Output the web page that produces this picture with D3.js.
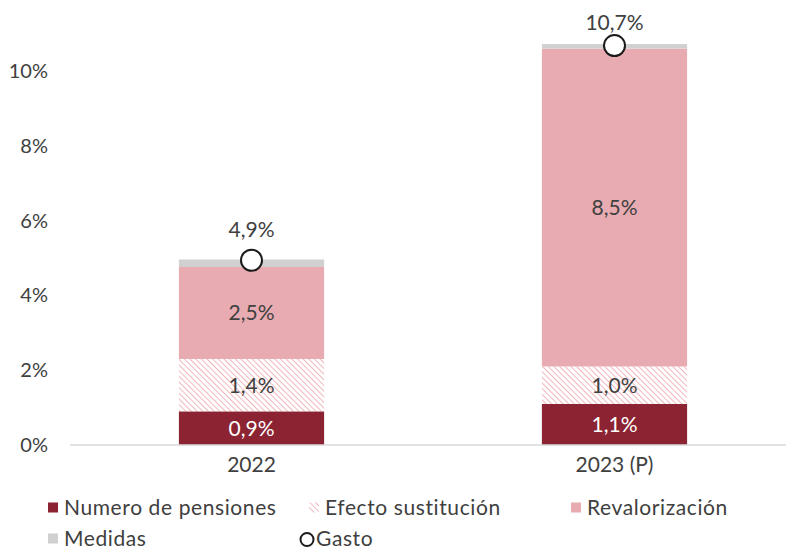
<!DOCTYPE html>
<html>
<head>
<meta charset="utf-8">
<script src="https://cdn.jsdelivr.net/npm/d3@7"></script>
<style>
  body { margin: 0; background: #fff; }
  text { font-family: Lato, "Open Sans", sans-serif; }
</style>
</head>
<body>
<script>
var years = ['2022', '2023 (P)'];
var numero = [0.9, 1.1];      // Numero de pensiones
var efecto = [1.4, 1.0];      // Efecto sustitución
var reval = [2.46, 8.5];      // Revalorización
var medidas = [0.2, 0.12];    // Medidas
var gasto = [4.94, 10.68];    // Gasto (marker)
var yTicks = [0, 2, 4, 6, 8, 10];

var seriesNames = ['Numero de pensiones', 'Efecto sustitución', 'Revalorización', 'Medidas'];
var seriesVals = [numero, efecto, reval, medidas];
var colors = ['#8B2332', 'url(#hatch)', '#E8ABB2', '#D0D0D0'];

var W = 786, H = 553;
var svg = d3.select('body').append('svg')
  .attr('width', W)
  .attr('height', H);

// hatch pattern for efecto sustitucion
var defs = svg.append('defs');
var pat = defs.append('pattern')
  .attr('id', 'hatch')
  .attr('patternUnits', 'userSpaceOnUse')
  .attr('width', 4)
  .attr('height', 4)
  .attr('patternTransform', 'rotate(-45)');
pat.append('rect').attr('width', 4).attr('height', 4).attr('fill', '#fff');
pat.append('line')
  .attr('x1', 0).attr('y1', 0).attr('x2', 0).attr('y2', 4)
  .attr('stroke', '#EDA5AD')
  .attr('stroke-width', 1.6);

var x = d3.scaleBand()
  .domain(years)
  .range([70, 796])
  .paddingInner(0.6)
  .paddingOuter(0.3);

var y = d3.scaleLinear().domain([0, 10]).range([445, 71]);

// stacked data
var table = years.map(function(yr, i) {
  var o = { year: yr };
  seriesNames.forEach(function(s, j) { o[s] = seriesVals[j][i]; });
  return o;
});
var stacked = d3.stack().keys(seriesNames)(table);

var fmt = function(v) { return d3.format('.1f')(v).replace('.', ',') + '%'; };

// y axis labels
var yAxis = svg.append('g')
  .attr('transform', 'translate(70,0)')
  .call(d3.axisLeft(y).tickValues(yTicks).tickSize(0).tickPadding(22)
    .tickFormat(function(d) { return d + '%'; }));
yAxis.select('.domain').remove();
yAxis.selectAll('text')
  .attr('fill', '#404040')
  .style('font-size', '20px');

// bars
var layers = svg.append('g').selectAll('g')
  .data(stacked)
  .enter().append('g')
  .attr('fill', function(d, i) { return colors[i]; });

layers.selectAll('rect')
  .data(function(d) { return d; })
  .enter().append('rect')
  .attr('x', function(d) { return x(d.data.year); })
  .attr('width', x.bandwidth())
  .attr('y', function(d) { return y(d[1]); })
  .attr('height', function(d) { return y(d[0]) - y(d[1]); });

// segment labels (first three series)
stacked.slice(0, 3).forEach(function(layer, i) {
  svg.append('g').selectAll('text')
    .data(layer)
    .enter().append('text')
    .attr('x', function(d) { return x(d.data.year) + x.bandwidth() / 2; })
    .attr('y', function(d) { return (y(d[0]) + y(d[1])) / 2; })
    .attr('dy', '0.35em')
    .attr('text-anchor', 'middle')
    .attr('fill', i === 0 ? '#fff' : '#404040')
    .style('font-size', '21px')
    .text(function(d) { return fmt(d[1] - d[0]); });
});

// x axis line
svg.append('line')
  .attr('x1', 70).attr('x2', 786)
  .attr('y1', y(0)).attr('y2', y(0))
  .attr('stroke', '#D9D9D9')
  .attr('stroke-width', 1.5);

var xAxis = svg.append('g')
  .attr('transform', 'translate(0,' + y(0) + ')')
  .call(d3.axisBottom(x).tickSize(0).tickPadding(12));
xAxis.select('.domain').remove();
xAxis.selectAll('text')
  .attr('fill', '#404040')
  .style('font-size', '21px');

// gasto markers
svg.append('g').selectAll('circle')
  .data(gasto)
  .enter().append('circle')
  .attr('cx', function(d, i) { return x(years[i]) + x.bandwidth() / 2; })
  .attr('cy', function(d) { return y(d); })
  .attr('r', 10.5)
  .attr('fill', '#fff')
  .attr('stroke', '#1a1a1a')
  .attr('stroke-width', 2);

svg.append('g').selectAll('text')
  .data(gasto)
  .enter().append('text')
  .attr('x', function(d, i) { return x(years[i]) + x.bandwidth() / 2; })
  .attr('y', function(d) { return Math.max(y(d) - 31, 23); })
  .attr('dy', '0.35em')
  .attr('text-anchor', 'middle')
  .attr('fill', '#404040')
  .style('font-size', '21px')
  .text(function(d) { return fmt(d); });

// legend
var legendItems = [
  { name: 'Numero de pensiones', fill: colors[0], x: 48, y: 508 },
  { name: 'Efecto sustitución', fill: colors[1], x: 309, y: 508 },
  { name: 'Revalorización', fill: colors[2], x: 571, y: 508 },
  { name: 'Medidas', fill: colors[3], x: 48, y: 539 },
  { name: 'Gasto', fill: null, x: 300, y: 539 }
];
var leg = svg.append('g').selectAll('g')
  .data(legendItems)
  .enter().append('g')
  .attr('transform', function(d) { return 'translate(' + d.x + ',' + d.y + ')'; });

leg.filter(function(d) { return d.fill; })
  .append('rect')
  .attr('x', 0).attr('y', -5.5)
  .attr('width', 10).attr('height', 10)
  .attr('fill', function(d) { return d.fill; });

leg.filter(function(d) { return !d.fill; })
  .append('circle')
  .attr('cx', 7).attr('cy', 0.5).attr('r', 6.5)
  .attr('fill', '#fff')
  .attr('stroke', '#1a1a1a')
  .attr('stroke-width', 2);

leg.append('text')
  .attr('x', 16)
  .attr('dy', '0.35em')
  .attr('fill', '#404040')
  .style('font-size', '21px')
  .style('letter-spacing', '0.6px')
  .text(function(d) { return d.name; });
</script>
</body>
</html>
